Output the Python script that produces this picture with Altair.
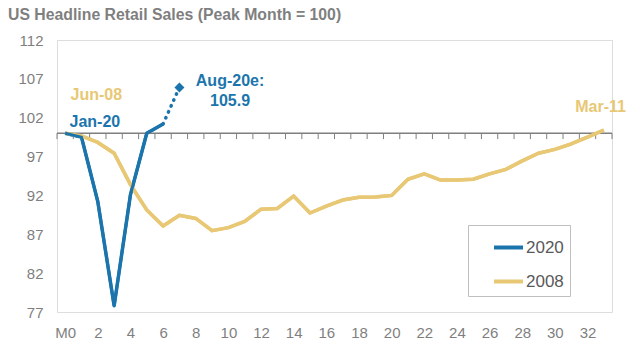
import altair as alt
import pandas as pd

FONT = "Liberation Sans, Arial, sans-serif"
BLUE = "#1B75AC"
GOLD = "#E8C874"
GREY = "#7f7f7f"

# 2008 recession, months from peak (Jun-08 = M0 ... Mar-11 = M33)
months_2008 = list(range(34))
values_2008 = [100.0, 99.65, 98.82, 97.43, 93.39, 90.13, 88.06, 89.44, 89.04, 87.47,
               87.86, 88.65, 90.23, 90.33, 91.91, 89.74, 90.62, 91.41, 91.76, 91.81,
               92.0, 94.08, 94.77, 93.98, 93.98, 94.08, 94.77, 95.36, 96.45, 97.43,
               97.93, 98.62, 99.51, 100.39]

# 2020 (Jan-20 = M0 ... Jul-20 = M6), Aug-20 estimate
months_2020 = [0, 1, 2, 3, 4, 5, 6]
values_2020 = [100.0, 99.5, 91.2, 77.8, 92.1, 100.0, 101.2]
est_month = 7
est_value = 105.9

y_ticks = [77, 82, 87, 92, 97, 102, 107, 112]
x_ticks = list(range(0, 33, 2))
axis_ticks = [i - 0.5 for i in range(35)]

ann_text = ["Jun-08", "Jan-20", "Aug-20e:", "105.9", "Mar-11"]
ann_x = [1.91, 1.82, 10.1, 10.1, 32.8]
ann_y = [104.93, 101.39, 106.73, 104.09, 103.32]
ann_color = [GOLD, BLUE, BLUE, BLUE, GOLD]

df08 = pd.DataFrame({"m": months_2008, "v": values_2008, "series": "2008"})
df20 = pd.DataFrame({"m": months_2020, "v": values_2020, "series": "2020"})
df_lines = pd.concat([df20, df08])
df_est = pd.DataFrame({"m": [months_2020[-1], est_month],
                       "v": [values_2020[-1], est_value]})
df_pt = pd.DataFrame({"m": [est_month], "v": [est_value]})
df_ticks = pd.DataFrame({"m": axis_ticks})
df_ann = pd.DataFrame({"t": ann_text, "m": ann_x, "v": ann_y, "c": ann_color})

xscale = alt.Scale(domain=[-0.5, 33.5], nice=False, zero=False)
yscale = alt.Scale(domain=[77, 112], nice=False, zero=False)

x_enc = alt.X("m:Q", scale=xscale,
              axis=alt.Axis(values=x_ticks, tickCount=60, format="d", title=None,
                            domain=False, ticks=False, grid=False,
                            labelExpr="datum.value == 0 ? 'M0' : datum.label",
                            labelPadding=13, labelFontSize=15, labelColor=GREY,
                            labelFont=FONT, labelFlush=False, labelOverlap=False))
y_enc = alt.Y("v:Q", scale=yscale,
              axis=alt.Axis(values=y_ticks, tickCount=60, format="d", title=None,
                            domain=False, ticks=False, grid=False, labelPadding=14,
                            labelFontSize=15, labelColor=GREY, labelFont=FONT,
                            labelOverlap=False, labelFlush=False))

lines = alt.Chart(df_lines).mark_line(strokeWidth=3.5, strokeJoin="round").encode(
    x=x_enc, y=y_enc,
    color=alt.Color("series:N",
                    scale=alt.Scale(domain=["2020", "2008"], range=[BLUE, GOLD]),
                    sort=["2020", "2008"],
                    legend=alt.Legend(title=None, orient="none", legendX=411, legendY=185,
                                      strokeColor="#bfbfbf", padding=6,
                                      symbolType="stroke", symbolStrokeWidth=4,
                                      symbolSize=841, symbolOffset=18,
                                      labelFontSize=17, labelColor="#595959",
                                      labelFont=FONT, labelOffset=1, rowPadding=9)),
    order=alt.Order("m:Q"),
)

base_axis_line = alt.Chart(pd.DataFrame({"a": [0]})).mark_rule(
    color=GREY, strokeWidth=1.5).encode(
    x=alt.datum(-0.5), x2=alt.datum(33.5), y=alt.datum(100))

tick_marks = alt.Chart(df_ticks).mark_rule(color=GREY, strokeWidth=1).encode(
    x="m:Q", y=alt.datum(100), y2=alt.datum(99.25))

line08 = alt.Chart(df08).mark_line(strokeWidth=3.5, color=GOLD).encode(
    x="m:Q", y="v:Q")
line20 = alt.Chart(df20).mark_line(strokeWidth=3, color=BLUE).encode(
    x="m:Q", y="v:Q")

est_line = alt.Chart(df_est).mark_line(strokeWidth=3.5, color=BLUE,
                                       strokeDash=[0.5, 6], strokeCap="round").encode(
    x="m:Q", y="v:Q")
est_pt = alt.Chart(df_pt).mark_point(shape="diamond", filled=True, size=100,
                                     color=BLUE, opacity=1).encode(x="m:Q", y="v:Q")

ann = alt.Chart(df_ann).mark_text(font=FONT, fontSize=16, fontWeight="bold",
                                  baseline="middle", align="center").encode(
    x="m:Q", y="v:Q", text="t:N", color=alt.Color("c:N", scale=None))

chart = alt.layer(
    lines, base_axis_line, tick_marks, line08, line20, est_line, est_pt, ann
).properties(
    width=555, height=272, autosize="none",
    padding={"left": 57, "top": 40, "right": 19, "bottom": 41},
    title=alt.TitleParams("US Headline Retail Sales (Peak Month = 100)",
                          anchor="start", frame="group", font=FONT, fontSize=15.8,
                          fontWeight="bold", color=GREY, offset=0, dx=-49, dy=-9)
).configure_view(stroke=None).configure(background="white")

chart.save("out.html", embed_options={"renderer": "svg", "actions": False})
